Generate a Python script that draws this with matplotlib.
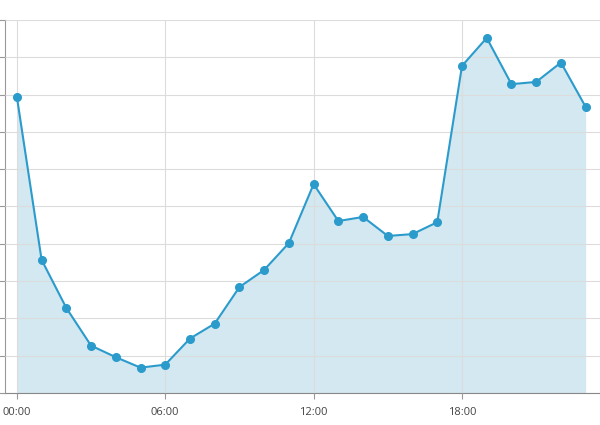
import numpy as np
from matplotlib import pyplot as plt

hours = list(range(24))
values = [7.94, 3.57, 2.28, 1.27, 0.96, 0.68, 0.76, 1.46, 1.86, 2.84, 3.30, 4.02,
          5.60, 4.61, 4.72, 4.21, 4.26, 4.58, 8.77, 9.52, 8.28, 8.34, 8.86, 7.67]
tick_hours = [0, 6, 12, 18]
tick_labels = ["00:00", "06:00", "12:00", "18:00"]

LINE = "#2b9bcc"
FILL = "#d3e8f1"

plt.rcParams['font.family'] = ['Open Sans', 'DejaVu Sans']

fig = plt.figure(figsize=(6, 4.25), dpi=100)
ax = fig.add_axes([5 / 600, 1 - 393 / 425, 595 / 600, 373 / 425])

ax.fill_between(hours, values, 0, color=FILL, linewidth=0, zorder=1)
ax.plot(hours, values, color=LINE, linewidth=1.5, marker="o", markersize=5.5, zorder=3)

ax.set_xlim(-0.48, 23.58)
ax.set_ylim(0, 10)
ax.set_xticks(tick_hours)
ax.set_xticklabels(tick_labels)
ax.set_yticks(np.arange(0, 11, 1))
ax.set_yticklabels([])

ax.grid(True, color="#dcdcdc", linewidth=0.8, zorder=2)
ax.set_axisbelow(False)

for side in ["top", "right"]:
    ax.spines[side].set_visible(False)
ax.spines["left"].set_color("#999999")
ax.spines["bottom"].set_color("#888888")
ax.tick_params(axis="both", colors="#999999", length=4, width=0.8)
ax.tick_params(axis="x", labelcolor="#444444", labelsize=8, pad=6)

fig.savefig("out.png", dpi=100)
